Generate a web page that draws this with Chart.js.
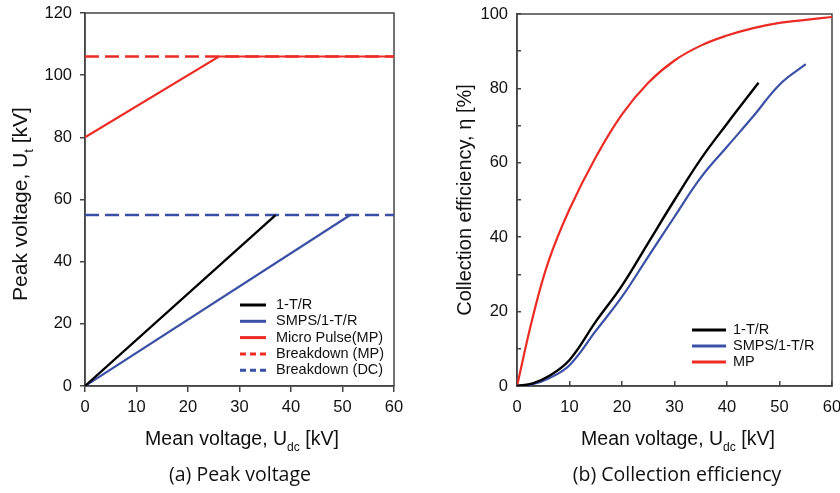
<!DOCTYPE html>
<html><head><meta charset="utf-8">
<script src="https://cdn.jsdelivr.net/npm/chart.js@4.4.1/dist/chart.umd.min.js"></script>
<style>
html,body{margin:0;padding:0;background:#fff;}
#wrap{position:relative;width:840px;height:493px;overflow:hidden;background:#fff;}
canvas{position:absolute;top:0;}
</style></head><body>
<div id="wrap">
<canvas id="c1" width="420" height="493" style="left:0;width:420px;height:493px"></canvas>
<canvas id="c2" width="420" height="493" style="left:420px;width:420px;height:493px"></canvas>
</div>
<script>
// ---------- data: (a) Peak voltage ----------
const peakXTicks = [0, 10, 20, 30, 40, 50, 60];
const peakYTicks = [0, 20, 40, 60, 80, 100, 120];
const peakLabels = ['1-T/R', 'SMPS/1-T/R', 'Micro Pulse(MP)', 'Breakdown (MP)', 'Breakdown (DC)'];
const peak1TR_x = [0, 37];
const peak1TR_y = [0, 55];
const peakSMPS_x = [0, 51.5];
const peakSMPS_y = [0, 55];
const peakMP_x = [0, 26, 60];
const peakMP_y = [80, 106, 106];
const breakdownMP_x = [0, 60];
const breakdownMP_y = [106, 106];
const breakdownDC_x = [0, 60];
const breakdownDC_y = [55, 55];

// ---------- data: (b) Collection efficiency ----------
const effXTicks = [0, 10, 20, 30, 40, 50, 60];
const effYTicks = [0, 10, 20, 30, 40, 50, 60, 70, 80, 90, 100];
const effLabels = ['1-T/R', 'SMPS/1-T/R', 'MP'];
const eff1TR_x = [0, 3, 6, 10, 15, 20, 25, 30, 35, 40, 46];
const eff1TR_y = [0, 0.7, 2.6, 7, 17.3, 27, 38.5, 50, 61, 70.5, 81.5];
const effSMPS_x = [0, 3, 6, 10, 15, 20, 25, 30, 35, 40, 45, 50, 55];
const effSMPS_y = [0, 0.5, 2, 5.6, 14.8, 24, 34.8, 45.5, 56, 64.3, 72.5, 81, 86.5];
const effMP_x = [0, 3, 6, 10, 15, 20, 25, 30, 35, 40, 45, 50, 55, 60];
const effMP_y = [0, 18.5, 33.5, 47.5, 61.5, 73, 81.5, 87.5, 91.5, 94.2, 96.2, 97.6, 98.4, 99.2];

const BLACK = '#000000', BLUE = '#3a50a6', RED = '#ec2b25', AXIS = '#444444', TXT = '#111111';
const SANS = '"Liberation Sans", Arial, sans-serif';

function pts(xs, ys) { return xs.map((x, i) => ({ x: x, y: ys[i] })); }

function drawRich(ctx, parts, cx, cy, rot, size, family) {
  ctx.save();
  ctx.translate(cx, cy);
  ctx.rotate(rot);
  ctx.fillStyle = TXT;
  ctx.textBaseline = 'alphabetic';
  ctx.textAlign = 'left';
  let w = 0;
  parts.forEach(p => {
    ctx.font = (p.sub ? size * 0.62 : size) + 'px ' + family;
    p.w = ctx.measureText(p.t).width;
    w += p.w;
  });
  let x = -w / 2;
  parts.forEach(p => {
    ctx.font = (p.sub ? size * 0.62 : size) + 'px ' + family;
    ctx.fillText(p.t, x, p.sub ? size * 0.3 : 0);
    x += p.w;
  });
  ctx.restore();
}

const decorPlugin = {
  id: 'decor',
  beforeDatasetsDraw(chart, args, o) {
    const ctx = chart.ctx, a = chart.chartArea;
    ctx.save();
    ctx.strokeStyle = AXIS;
    ctx.lineWidth = 1.5;
    ctx.strokeRect(a.left, a.top, a.right - a.left, a.bottom - a.top);
    ctx.restore();
  },
  afterDraw(chart, args, o) {
    const ctx = chart.ctx;
    ctx.save();
    ctx.font = o.legendFont;
    ctx.textBaseline = 'middle';
    ctx.textAlign = 'left';
    chart.data.datasets.forEach((ds, i) => {
      const y = o.legY + i * o.legRow;
      ctx.beginPath();
      ctx.strokeStyle = ds.borderColor;
      ctx.lineWidth = 3;
      ctx.setLineDash(ds.borderDash && ds.borderDash.length ? [6, 4] : []);
      ctx.moveTo(o.legX0, y);
      ctx.lineTo(o.legX1, y);
      ctx.stroke();
      ctx.setLineDash([]);
      ctx.fillStyle = TXT;
      ctx.fillText(ds.label, o.legTX, y);
    });
    ctx.restore();
    drawRich(ctx, o.yTitle, o.yTitleX, o.yTitleY, -Math.PI / 2, o.yTitleSize, SANS);
    drawRich(ctx, o.xTitle, o.xTitleX, o.xTitleY, 0, 19.5, SANS);
    drawRich(ctx, [{ t: o.caption }], o.capX, o.capY, 0, 19.5, '"Open Sans", "Noto Sans", sans-serif');
  }
};

function fixX(h) { return s => { s.height = h; s.paddingLeft = 0; s.paddingRight = 0; }; }
function fixY(w) { return s => { s.width = w; s.paddingTop = 0; s.paddingBottom = 0; }; }
function setTicks(arr) { return s => { s.ticks = arr.map(v => ({ value: v })); }; }

// ---------- chart (a) ----------
new Chart(document.getElementById('c1'), {
  type: 'line',
  data: {
    datasets: [
      { label: peakLabels[0], data: pts(peak1TR_x, peak1TR_y), borderColor: BLACK, borderWidth: 2.3 },
      { label: peakLabels[1], data: pts(peakSMPS_x, peakSMPS_y), borderColor: BLUE, borderWidth: 2.2 },
      { label: peakLabels[2], data: pts(peakMP_x, peakMP_y), borderColor: RED, borderWidth: 2.2 },
      { label: peakLabels[3], data: pts(breakdownMP_x, breakdownMP_y), borderColor: RED, borderWidth: 2.4, borderDash: [14, 6] },
      { label: peakLabels[4], data: pts(breakdownDC_x, breakdownDC_y), borderColor: BLUE, borderWidth: 2.4, borderDash: [14, 6] }
    ]
  },
  options: {
    responsive: false, animation: false, devicePixelRatio: 1,
    elements: { point: { radius: 0 }, line: { tension: 0, fill: false } },
    layout: { padding: { left: 0, right: 26, top: 13, bottom: 0 } },
    plugins: {
      legend: { display: false }, tooltip: { enabled: false },
      decor: {
        legendFont: '14.5px ' + SANS, legX0: 240, legX1: 266, legTX: 276, legY: 305, legRow: 16.3,
        yTitle: [{ t: 'Peak voltage, U' }, { t: 't', sub: true }, { t: ' [kV]' }],
        yTitleX: 27, yTitleY: 204, yTitleSize: 21,
        xTitle: [{ t: 'Mean voltage, U' }, { t: 'dc', sub: true }, { t: ' [kV]' }],
        xTitleX: 242, xTitleY: 445,
        caption: '(a) Peak voltage', capX: 240, capY: 481
      }
    },
    scales: {
      x: {
        type: 'linear', min: 0, max: 60,
        afterBuildTicks: setTicks(peakXTicks), afterFit: fixX(107),
        grid: { display: true, drawOnChartArea: false, drawTicks: true, tickLength: 6, color: AXIS, lineWidth: 1.5 },
        border: { display: true, color: AXIS, width: 1.5 },
        ticks: { color: TXT, font: { family: SANS, size: 16.5 }, padding: 6, maxRotation: 0, autoSkip: false }
      },
      y: {
        type: 'linear', min: 0, max: 120,
        afterBuildTicks: setTicks(peakYTicks), afterFit: fixY(85),
        grid: { display: true, drawOnChartArea: false, drawTicks: true, tickLength: 5, color: AXIS, lineWidth: 1.5 },
        border: { display: true, color: AXIS, width: 1.5 },
        ticks: { color: TXT, font: { family: SANS, size: 16.5 }, padding: 8, autoSkip: false }
      }
    }
  },
  plugins: [decorPlugin]
});

// ---------- chart (b) ----------
new Chart(document.getElementById('c2'), {
  type: 'line',
  data: {
    datasets: [
      { label: effLabels[0], data: pts(eff1TR_x, eff1TR_y), borderColor: BLACK, borderWidth: 2.4 },
      { label: effLabels[1], data: pts(effSMPS_x, effSMPS_y), borderColor: BLUE, borderWidth: 2.2 },
      { label: effLabels[2], data: pts(effMP_x, effMP_y), borderColor: RED, borderWidth: 2.2 }
    ]
  },
  options: {
    responsive: false, animation: false, devicePixelRatio: 1,
    elements: { point: { radius: 0 }, line: { tension: 0.4, fill: false } },
    layout: { padding: { left: 0, right: 8, top: 14, bottom: 0 } },
    plugins: {
      legend: { display: false }, tooltip: { enabled: false },
      decor: {
        legendFont: '14.5px ' + SANS, legX0: 272, legX1: 306, legTX: 313, legY: 330, legRow: 16,
        yTitle: [{ t: 'Collection efficiency, \u03b7 [%]' }],
        yTitleX: 51, yTitleY: 200, yTitleSize: 20,
        xTitle: [{ t: 'Mean voltage, U' }, { t: 'dc', sub: true }, { t: ' [kV]' }],
        xTitleX: 258, xTitleY: 445,
        caption: '(b) Collection efficiency', capX: 257, capY: 481
      }
    },
    scales: {
      x: {
        type: 'linear', min: 0, max: 60,
        afterBuildTicks: setTicks(effXTicks), afterFit: fixX(107),
        grid: { display: true, drawOnChartArea: false, drawTicks: true, tickLength: -5, color: AXIS, lineWidth: 1.5 },
        border: { display: true, color: AXIS, width: 1.5 },
        ticks: { color: TXT, font: { family: SANS, size: 16.5 }, padding: 17, maxRotation: 0, autoSkip: false }
      },
      y: {
        type: 'linear', min: 0, max: 100,
        afterBuildTicks: setTicks(effYTicks), afterFit: fixY(97),
        grid: { display: true, drawOnChartArea: false, drawTicks: true, tickLength: -4, color: AXIS, lineWidth: 1.5 },
        border: { display: true, color: AXIS, width: 1.5 },
        ticks: { color: TXT, font: { family: SANS, size: 16.5 }, padding: 13, autoSkip: false,
                 callback: v => (v % 20 === 0 ? String(v) : '') }
      }
    }
  },
  plugins: [decorPlugin]
});
</script>
</body></html>
